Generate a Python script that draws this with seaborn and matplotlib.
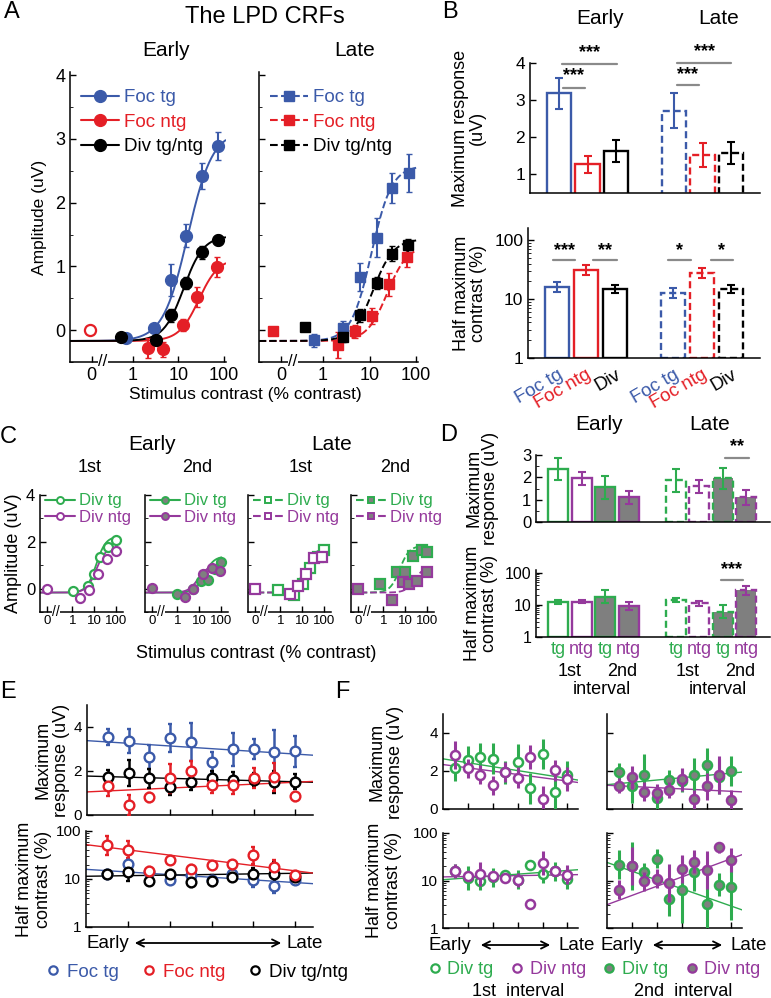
import numpy as np
import matplotlib
matplotlib.use("Agg")
import matplotlib.pyplot as plt
import matplotlib.transforms as mtransforms
from matplotlib.lines import Line2D
from matplotlib.patches import FancyArrowPatch
from matplotlib.ticker import LogLocator, NullFormatter, MultipleLocator
import seaborn as sns

sns.set_style("ticks")
plt.rcParams["font.family"] = ["Liberation Sans", "DejaVu Sans"]
plt.rcParams.update({
    "xtick.direction": "in", "ytick.direction": "in",
    "axes.edgecolor": "black", "axes.linewidth": 1.1,
    "xtick.color": "black", "ytick.color": "black",
    "text.color": "black", "axes.labelcolor": "black",
    "xtick.major.size": 4, "ytick.major.size": 4,
    "xtick.minor.size": 2.5, "ytick.minor.size": 2.5,
    "xtick.major.width": 1, "ytick.major.width": 1,
})

BLUE = "#3b5aa9"
RED = "#e41f26"
GREEN = "#2eac4f"
PURPLE = "#95399c"
GRAYFILL = "#7f7f7f"
SIG = "#8a8a8a"

# ---------------- data ----------------
# A: contrast response functions (x = log10 contrast, zero contrast placed at -0.9)
ae_tg_x = [-0.15, 0.46, 0.83, 1.17, 1.52, 1.87]
ae_tg_y = [-0.13, 0.03, 0.78, 1.48, 2.42, 2.89]
ae_tg_e = [0.05, 0.06, 0.25, 0.18, 0.2, 0.22]
ae_ntg_x = [0.33, 0.67, 1.09, 1.41, 1.85]
ae_ntg_y = [-0.28, -0.3, 0.08, 0.52, 0.99]
ae_ntg_e = [0.15, 0.12, 0.1, 0.15, 0.15]
ae_div_x = [-0.26, 0.5, 0.83, 1.17, 1.52, 1.87]
ae_div_y = [-0.11, -0.16, 0.23, 0.74, 1.22, 1.42]
ae_div_e = [0.05, 0.08, 0.1, 0.1, 0.1, 0.08]
ae_zero = (-0.93, 0.0)

al_tg_x = [-0.2, 0.43, 0.79, 1.16, 1.48, 1.84]
al_tg_y = [-0.16, 0.03, 0.83, 1.45, 2.23, 2.47]
al_tg_e = [0.1, 0.12, 0.22, 0.31, 0.23, 0.3]
al_ntg_x = [0.32, 0.69, 1.06, 1.42, 1.8]
al_ntg_y = [-0.23, -0.02, 0.22, 0.72, 1.14]
al_ntg_e = [0.2, 0.1, 0.12, 0.18, 0.15]
al_div_x = [-0.39, 0.43, 0.79, 1.16, 1.48, 1.82]
al_div_y = [0.05, -0.1, 0.23, 0.74, 1.2, 1.33]
al_div_e = [0.03, 0.08, 0.1, 0.1, 0.12, 0.1]
al_zero = (-1.07, -0.02)

fit_base = -0.17
ae_rmax, ae_c50, ae_n = [3.3, 1.3, 1.65], [16, 28, 13], [1.6, 2.0, 2.0]
al_rmax, al_c50, al_n = [2.75, 1.5, 1.6], [11, 24, 12], [2.0, 2.0, 2.0]

# B: fitted parameters
b_pos = [0, 1, 2, 4, 5, 6]
b_labels = ["Foc tg", "Foc ntg", "Div"] * 2
b_max = [3.18, 1.27, 1.63, 2.72, 1.52, 1.58]
b_max_err = [0.42, 0.23, 0.3, 0.48, 0.33, 0.3]
b_half = [16, 31, 14.8, 12.6, 27.6, 14.8]
b_half_err = [0.08, 0.08, 0.06, 0.09, 0.09, 0.06]

# C: divided attention CRFs, 1st / 2nd interval
c1_tg_x = [0.02, 0.7, 0.97, 1.25, 1.61, 1.98]
c1_tg_y = [-0.12, 0.13, 0.64, 1.33, 1.77, 2.06]
c1_ntg_x = [0.34, 0.75, 1.16, 1.57, 1.97]
c1_ntg_y = [-0.4, -0.05, 0.64, 1.25, 1.6]
c2_tg_x = [-0.03, 0.7, 1.07, 1.38, 1.7, 2.0]
c2_tg_y = [-0.22, 0.0, 0.34, 0.38, 0.85, 1.12]
c2_ntg_x = [0.34, 0.7, 1.16, 1.57, 1.93]
c2_ntg_y = [-0.38, 0.0, 0.63, 0.86, 0.74]
c3_tg_x = [-0.12, 0.61, 1.02, 1.34, 1.7, 1.98]
c3_tg_y = [-0.05, -0.26, 0.2, 0.86, 1.35, 1.63]
c3_ntg_x = [0.43, 0.79, 1.16, 1.52, 1.9]
c3_ntg_y = [-0.22, 0.09, 0.64, 1.29, 1.33]
c4_tg_x = [-0.16, 0.61, 0.97, 1.34, 1.75, 2.0]
c4_tg_y = [0.18, 0.7, 0.72, 1.38, 1.66, 1.55]
c4_ntg_x = [0.38, 0.88, 1.16, 1.52, 1.97]
c4_ntg_y = [-0.5, 0.27, 0.2, 0.34, 0.73]
c_tg_e = [0.1, 0.12, 0.15, 0.2, 0.18, 0.2]
c_ntg_e = [0.12, 0.12, 0.15, 0.2, 0.18]
c_zero_y = [0.0, 0.04, 0.0, 0.0]
c_tg_rmax, c_tg_c50 = [2.4, 1.55, 1.9, 2.0], [12, 17, 13.5, 5.5]
c_ntg_rmax, c_ntg_c50 = [1.95, 1.15, 1.65, 1.15], [12, 8.5, 10.5, 28]

# D: fitted parameters for divided attention
d_pos = [0, 1, 2, 3, 5, 6, 7, 8]
d_labels = ["tg", "ntg"] * 4
d_max = [2.36, 1.95, 1.55, 1.1, 1.86, 1.6, 1.95, 1.1]
d_max_err = [0.5, 0.3, 0.5, 0.3, 0.5, 0.3, 0.45, 0.35]
d_half = [12.5, 12.5, 18, 9, 14, 11, 6, 28]
d_half_err = [0.06, 0.05, 0.2, 0.13, 0.06, 0.07, 0.2, 0.14]

# E: parameters across the session (10 bins)
bins = list(range(1, 11))
e_tg_max = [3.55, 3.37, 2.63, 3.5, 3.32, 2.4, 3.0, 3.0, 2.86, 2.9]
e_tg_max_e = [0.38, 0.55, 0.55, 0.65, 0.85, 0.45, 0.75, 0.45, 1.0, 0.7]
e_ntg_max = [1.3, 0.45, 0.8, 1.67, 2.0, 1.35, 1.35, 1.67, 1.72, 0.85]
e_ntg_max_e = [0.45, 0.45, 0.2, 0.65, 0.45, 0.35, 0.4, 0.45, 0.65, 0.2]
e_div_max = [1.75, 1.9, 1.66, 1.28, 1.52, 1.7, 1.6, 1.6, 1.52, 1.52]
e_div_max_e = [0.3, 0.6, 0.45, 0.35, 0.4, 0.3, 0.35, 0.3, 0.5, 0.35]
e_tg_half = [13, 21, 14, 9.5, 12, 9.5, 13, 9.5, 7.2, 9.5]
e_tg_half_e = [0.06, 0.1, 0.05, 0.06, 0.05, 0.06, 0.05, 0.15, 0.15, 0.07]
e_ntg_half = [50, 41, 14.5, 25, 16.5, 20, 21, 31, 18, 12]
e_ntg_half_e = [0.2, 0.18, 0.08, 0.07, 0.08, 0.06, 0.06, 0.18, 0.15, 0.08]
e_div_half = [12.5, 14, 9.3, 12.5, 8.8, 9.3, 10.8, 13, 12.5, 11.2]
e_div_half_e = [0.06, 0.18, 0.05, 0.06, 0.12, 0.12, 0.05, 0.12, 0.25, 0.1]
# regression lines: intercept, slope (max: linear, half: log10)
e_max_fit = {"tg": (3.38, -0.061), "ntg": (1.05, 0.044), "div": (1.77, -0.026)}
e_half_fit = {"tg": (1.201, -0.0275), "ntg": (1.716, -0.0546), "div": (1.057, 0.0062)}

# F: divided attention across the session
f1_tg_max = [2.15, 2.56, 2.74, 2.65, 1.94, 2.5, 1.08, 2.88, 0.87, 1.81]
f1_tg_max_e = [0.65, 0.75, 0.75, 0.8, 0.6, 0.9, 0.8, 0.8, 0.9, 0.7]
f1_ntg_max = [2.83, 2.15, 1.8, 1.26, 1.95, 1.64, 2.74, 0.52, 2.03, 1.58]
f1_ntg_max_e = [0.75, 0.5, 0.5, 0.5, 0.55, 0.55, 0.65, 0.7, 0.55, 0.65]
f2_tg_max = [1.94, 1.23, 1.81, 0.6, 1.53, 1.49, 1.81, 2.29, 1.71, 1.99]
f2_tg_max_e = [0.5, 0.9, 1.1, 0.6, 0.5, 0.6, 0.9, 0.9, 0.9, 0.8]
f2_ntg_max = [1.23, 1.67, 0.91, 0.84, 1.0, 1.56, 0.52, 1.19, 1.8, 0.48]
f2_ntg_max_e = [0.4, 0.6, 0.5, 0.5, 0.4, 0.6, 0.5, 0.7, 1.0, 0.5]
f1_tg_half = [15.6, 11.3, 9.9, 11.8, 13.3, 10.4, 21.6, 14, 15.6, 10.7]
f1_tg_half_e = [0.15, 0.25, 0.2, 0.2, 0.08, 0.2, 0.08, 0.2, 0.2, 0.2]
f1_ntg_half = [16.1, 12.6, 13.9, 12.2, 11.3, 10.4, 3.25, 23.4, 16.1, 13.3]
f1_ntg_half_e = [0.15, 0.1, 0.25, 0.12, 0.08, 0.15, 0.1, 0.25, 0.1, 0.2]
f2_tg_half = [21.6, 20, 14.9, 28.4, 4.1, 6.4, 14.9, 3.2, 8.2, 7.3]
f2_tg_half_e = [0.3, 0.5, 0.2, 0.2, 0.35, 0.7, 0.4, 0.6, 0.25, 0.7]
f2_ntg_half = [6.4, 20.5, 9.6, 10.8, 8.9, 17.5, 25, 16.9, 50, 26.6]
f2_ntg_half_e = [0.2, 0.4, 0.2, 0.2, 0.4, 0.3, 0.25, 0.4, 0.12, 0.25]
f_max_fit = [(2.64, -0.103), (2.34, -0.087), (1.28, 0.061), (1.25, -0.032)]
f_half_fit = [(1.017, 0.0194), (1.076, 0.0044), (1.38, -0.092), (0.491, 0.097)]

# ---------------- helpers ----------------
W, H = 771, 998
fig = plt.figure(figsize=(W / 100, H / 100), dpi=100)


def add_ax(l, t, r, b):
    ax = fig.add_axes([l / W, 1 - b / H, (r - l) / W, (b - t) / H])
    sns.despine(ax=ax)
    return ax


def ftext(x, y, s, **kw):
    kw.setdefault("ha", "center")
    kw.setdefault("va", "center")
    fig.text(x / W, 1 - y / H, s, **kw)


def arrow(x0, x1, y):
    fig.add_artist(FancyArrowPatch((x0 / W, 1 - y / H), (x1 / W, 1 - y / H),
                                   transform=fig.transFigure, arrowstyle="<->",
                                   mutation_scale=13, lw=1.3, color="black"))


def naka(x, rmax, c50, n, base=fit_base):
    c = 10.0 ** np.asarray(x)
    return base + rmax * c ** n / (c ** n + c50 ** n)


def fit_curve(ax, x0, x1, rmax, c50, n, color, ls="-", lw=1.4):
    xs = np.linspace(x0, x1, 200)
    sns.lineplot(x=xs, y=naka(xs, rmax, c50, n), ax=ax, color=color,
                 linestyle=ls, lw=lw, legend=False)


def brk(ax, x, fs=12):
    tr = mtransforms.blended_transform_factory(ax.transData, ax.transAxes)
    ax.text(x, 0, "//", transform=tr, ha="center", va="center", fontsize=fs,
            clip_on=False, zorder=6,
            bbox=dict(fc="white", ec="none", pad=0.3))


def logerr(v, e):
    v = np.asarray(v, float)
    e = np.asarray(e, float)
    return [v - v / 10 ** e, v * 10 ** e - v]


def log_axis(ax, top):
    ax.set_yscale("log")
    ax.set_ylim(1, top)
    ax.set_yticks([1, 10, 100], ["1", "10", "100"])
    ax.yaxis.set_minor_locator(LogLocator(base=10, subs=np.arange(2, 10), numticks=20))
    ax.yaxis.set_minor_formatter(NullFormatter())


def bars(ax, vals, errs, pos, colors, dashed, filled, width, log=False):
    for x, v, e, c, d, f in zip(pos, vals, errs, colors, dashed, filled):
        bottom = 1 if log else 0
        ax.bar(x, v - bottom, bottom=bottom, width=width,
               facecolor=GRAYFILL if f else "white", edgecolor=c, lw=1.7,
               ls=(0, (3, 1.6)) if d else "-", zorder=2)
        yerr = np.array(logerr([v], [e])) if log else e
        ax.errorbar(x, v, yerr=yerr, fmt="none", ecolor=c, elinewidth=1.5,
                    capsize=3, capthick=1.5, zorder=3)


def sig(ax, x0, x1, y, ys, s, fs=13):
    ax.plot([x0, x1], [y, y], color=SIG, lw=1.6, clip_on=False, zorder=4)
    ax.text((x0 + x1) / 2, ys, s, ha="center", va="center", fontsize=fs,
            fontweight="bold", clip_on=False)


# ---------------- panel A ----------------
xl_a = (-1.37, 2.04)
for k, (l, r) in enumerate([(70, 226), (259, 418)]):
    ax = add_ax(l, 72, r, 362)
    late = k == 1
    ls = "--" if late else "-"
    mk = "s" if late else "o"
    ms = 7 if late else 8.5
    sets = ([(al_tg_x, al_tg_y, al_tg_e, BLUE), (al_ntg_x, al_ntg_y, al_ntg_e, RED),
             (al_div_x, al_div_y, al_div_e, "black")] if late else
            [(ae_tg_x, ae_tg_y, ae_tg_e, BLUE), (ae_ntg_x, ae_ntg_y, ae_ntg_e, RED),
             (ae_div_x, ae_div_y, ae_div_e, "black")])
    rm, c5, nn = (al_rmax, al_c50, al_n) if late else (ae_rmax, ae_c50, ae_n)
    for i, (xx, yy, ee, c) in enumerate(sets):
        fit_curve(ax, xl_a[0], 2.0 if late else 2.03, rm[i], c5[i], nn[i], c, ls)
        ax.errorbar(xx, yy, yerr=ee, fmt=mk, color=c, ms=ms, mec=c, ecolor=c,
                    elinewidth=1.5, capsize=2, zorder=4)
    if late:
        ax.plot([al_zero[0]], [al_zero[1]], "s", color=RED, ms=7)
    else:
        ax.plot([ae_zero[0]], [ae_zero[1]], "o", mfc="white", mec=RED, mew=1.6, ms=8)
    ax.set_xlim(*xl_a)
    ax.set_ylim(-0.5, 4.05)
    ax.set_xticks([-0.9, 0, 1, 2], ["0", "1", "10", "100"], fontsize=13)
    ax.set_yticks([0, 1, 2, 3, 4])
    ax.yaxis.set_minor_locator(MultipleLocator(0.5))
    if late:
        ax.set_yticklabels([])
    else:
        ax.tick_params(axis="y", labelsize=13)
        ax.set_ylabel("Amplitude (uV)", fontsize=12.5, labelpad=6)
    brk(ax, -0.65, 12)
    handles = [Line2D([], [], color=c, ls=ls, marker=mk, ms=ms) for c in (BLUE, RED, "black")]
    ax.legend(handles, ["Foc tg", "Foc ntg", "Div tg/ntg"], loc="upper left",
              bbox_to_anchor=(0.0, 0.98), frameon=False, fontsize=13.5,
              handlelength=2.0, handletextpad=0.3, labelspacing=0.4,
              labelcolor="linecolor", borderaxespad=0.2)

ftext(12, 12, "A", fontsize=17)
ftext(265, 17, "The LPD CRFs", fontsize=17)
ftext(166, 50, "Early", fontsize=15)
ftext(355, 50, "Late", fontsize=15)
ftext(245, 395, "Stimulus contrast (% contrast)", fontsize=12.5)

# ---------------- panel B ----------------
b_colors = [BLUE, RED, "black"] * 2
b_dashed = [False] * 3 + [True] * 3
ax = add_ax(530, 63, 760, 193)
bars(ax, b_max, b_max_err, b_pos, b_colors, b_dashed, [False] * 6, 0.84)
ax.set_xlim(-1, 7)
ax.set_ylim(0.5, 4)
ax.set_yticks([1, 2, 3, 4])
ax.tick_params(axis="y", labelsize=12.5)
ax.set_xticks([])
sig(ax, 0.14, 0.9, 3.34, 3.66, "***")
sig(ax, 0.1, 2.02, 3.98, 4.28, "***")
sig(ax, 4.11, 4.88, 3.4, 3.7, "***")
sig(ax, 4.11, 6.0, 4.01, 4.32, "***")
ftext(469, 128, "Maximum response\n(uV)", rotation=90, fontsize=13, linespacing=1.0)

ax = add_ax(528, 228, 760, 358)
bars(ax, b_half, b_half_err, b_pos, b_colors, b_dashed, [False] * 6, 0.84, log=True)
ax.set_xlim(-1, 7)
log_axis(ax, 160)
ax.tick_params(axis="y", labelsize=12.5)
ax.set_xticks(b_pos, b_labels, rotation=30, ha="right", rotation_mode="anchor", fontsize=13.5)
ax.tick_params(axis="x", length=0, pad=6)
for t, c in zip(ax.get_xticklabels(), b_colors):
    t.set_color(c)
sig(ax, -0.14, 0.63, 46, 66, "***")
sig(ax, 1.25, 2.06, 46, 66, "**")
sig(ax, 3.83, 4.63, 46, 66, "*")
sig(ax, 5.3, 6.06, 46, 66, "*")
ftext(470, 293, "Half maximum\ncontrast (%)", rotation=90, fontsize=13, linespacing=1.0)

ftext(450, 12, "B", fontsize=17)
ftext(600, 18, "Early", fontsize=15)
ftext(719, 18, "Late", fontsize=15)

# ---------------- panel C ----------------
xl_c = (-1.48, 2.3)
c_sets = [(c1_tg_x, c1_tg_y, c1_ntg_x, c1_ntg_y), (c2_tg_x, c2_tg_y, c2_ntg_x, c2_ntg_y),
          (c3_tg_x, c3_tg_y, c3_ntg_x, c3_ntg_y), (c4_tg_x, c4_tg_y, c4_ntg_x, c4_ntg_y)]
for k, l in enumerate([40, 145, 248, 351]):
    ax = add_ax(l, 495, l + 83, 612)
    late = k >= 2
    second = k % 2 == 1
    ls = "--" if late else "-"
    mk = "s" if late else "o"
    face = GRAYFILL if second else "white"
    tx, ty, nx, ny = c_sets[k]
    fit_curve(ax, xl_c[0], 2.0, c_tg_rmax[k], c_tg_c50[k], 2, GREEN, ls, 1.3)
    fit_curve(ax, xl_c[0], 2.0, c_ntg_rmax[k], c_ntg_c50[k], 2, PURPLE, ls, 1.3)
    ax.errorbar(tx, ty, yerr=c_tg_e, fmt=mk, mfc=face, mec=GREEN, ecolor=GREEN,
                ms=6.5, mew=1.6, elinewidth=1.4, capsize=0, zorder=4)
    ax.errorbar(nx, ny, yerr=c_ntg_e, fmt=mk, mfc=face, mec=PURPLE, ecolor=PURPLE,
                ms=6.5, mew=1.6, elinewidth=1.4, capsize=0, zorder=5)
    ax.plot([-1.15], [c_zero_y[k]], mk, mfc=face, mec=PURPLE, mew=1.6, ms=6.5, zorder=5)
    ax.set_xlim(*xl_c)
    ax.set_ylim(-1, 4)
    ax.set_xticks([-1.15, 0, 1, 2], ["0", "1", "10", "100"], fontsize=9.5)
    ax.tick_params(axis="x", pad=2)
    ax.set_yticks([0, 2, 4])
    ax.yaxis.set_minor_locator(MultipleLocator(1))
    if k == 0:
        ax.tick_params(axis="y", labelsize=12)
        ax.set_ylabel("Amplitude (uV)", fontsize=13, labelpad=3)
    else:
        ax.set_yticklabels([])
    brk(ax, -0.75, 10)
    handles = [Line2D([], [], color=c, ls=ls, marker=mk, mfc=face, mec=c, mew=1.4, ms=5)
               for c in (GREEN, PURPLE)]
    ax.legend(handles, ["Div tg", "Div ntg"], loc="upper left", bbox_to_anchor=(-0.02, 1.07),
              frameon=False, fontsize=12, handlelength=1.8, handletextpad=0.25,
              labelspacing=0.1, labelcolor="linecolor", borderaxespad=0)

ftext(8, 437, "C", fontsize=17)
ftext(152, 445, "Early", fontsize=15)
ftext(332, 445, "Late", fontsize=15)
for x, s in zip([90, 197, 301, 395], ["1st", "2nd", "1st", "2nd"]):
    ftext(x, 468, s, fontsize=13)
ftext(256, 653, "Stimulus contrast (% contrast)", fontsize=13)

# ---------------- panel D ----------------
d_colors = [GREEN, PURPLE] * 4
d_dashed = [False] * 4 + [True] * 4
d_filled = [False, False, True, True] * 2
ax = add_ax(536, 455, 770, 522)
bars(ax, d_max, d_max_err, d_pos, d_colors, d_dashed, d_filled, 0.85)
ax.set_xlim(-0.94, 9.0)
ax.set_ylim(0, 3)
ax.set_yticks([0, 1, 2, 3])
ax.yaxis.set_minor_locator(MultipleLocator(0.5))
ax.tick_params(axis="y", labelsize=12)
ax.set_xticks([])
sig(ax, 7.1, 8.09, 2.87, 3.38, "**")
ftext(482, 488, "Maximum\nresponse (uV)", rotation=90, fontsize=13, linespacing=1.0)

ax = add_ax(536, 570, 770, 637)
bars(ax, d_half, d_half_err, d_pos, d_colors, d_dashed, d_filled, 0.85, log=True)
ax.set_xlim(-0.94, 9.0)
log_axis(ax, 120)
ax.tick_params(axis="y", labelsize=11.5)
ax.set_xticks(d_pos, d_labels, fontsize=13)
ax.tick_params(axis="x", length=0, pad=3)
for t, c in zip(ax.get_xticklabels(), d_colors):
    t.set_color(c)
sig(ax, 6.9, 7.87, 59, 122, "***")
ftext(481, 603, "Half maximum\ncontrast (%)", rotation=90, fontsize=13, linespacing=1.0)
for x, s in [(570, "1st"), (622, "2nd"), (688, "1st"), (740, "2nd")]:
    ftext(x, 672, s, fontsize=13)
ftext(602, 690, "interval", fontsize=13)
ftext(718, 690, "interval", fontsize=13)

ftext(449, 435, "D", fontsize=17)
ftext(599, 424, "Early", fontsize=15)
ftext(710, 424, "Late", fontsize=15)

# ---------------- panel E ----------------
xl_e = (0, 10.85)
xs_fit = np.array(xl_e)
ax = add_ax(87, 705, 313, 815)
for key, yy, ee, c in [("tg", e_tg_max, e_tg_max_e, BLUE), ("div", e_div_max, e_div_max_e, "black"),
                       ("ntg", e_ntg_max, e_ntg_max_e, RED)]:
    a, b = e_max_fit[key]
    sns.lineplot(x=xs_fit, y=a + b * xs_fit, ax=ax, color=c, lw=1.0, legend=False)
    ax.errorbar(bins, yy, yerr=ee, fmt="o", mfc="white", mec=c, ecolor=c, ms=7,
                mew=1.7, elinewidth=1.8, capsize=1.5, zorder=4)
ax.set_xlim(*xl_e)
ax.set_ylim(0, 5)
ax.set_yticks([0, 2, 4])
ax.tick_params(axis="y", labelsize=11)
ax.set_xticks([2, 4, 6, 8, 10], [])
ftext(52, 760, "Maximum\nresponse (uV)", rotation=90, fontsize=13, linespacing=1.1)

ax = add_ax(86, 831, 313, 927)
for key, yy, ee, c in [("tg", e_tg_half, e_tg_half_e, BLUE), ("div", e_div_half, e_div_half_e, "black"),
                       ("ntg", e_ntg_half, e_ntg_half_e, RED)]:
    a, b = e_half_fit[key]
    sns.lineplot(x=xs_fit, y=10 ** (a + b * xs_fit), ax=ax, color=c, lw=1.0, legend=False)
    ax.errorbar(bins, yy, yerr=logerr(yy, ee), fmt="o", mfc="white", mec=c, ecolor=c, ms=7,
                mew=1.7, elinewidth=1.8, capsize=1.5, zorder=4)
ax.set_xlim(*xl_e)
log_axis(ax, 100)
ax.tick_params(axis="y", labelsize=11)
ax.set_xticks([2, 4, 6, 8, 10], [])
ftext(34, 879, "Half maximum\ncontrast (%)", rotation=90, fontsize=13, linespacing=1.1)

ftext(86, 943, "Early", ha="left", fontsize=13.5)
arrow(132, 284, 943)
ftext(287, 943, "Late", ha="left", fontsize=13.5)
e_handles = [Line2D([], [], ls="none", marker="o", mfc="white", mec=c, color=c, mew=1.6, ms=6)
             for c in (BLUE, RED, "black")]
fig.legend(e_handles, ["Foc tg", "Foc ntg", "Div tg/ntg"], loc="center",
           bbox_to_anchor=(197 / W, 1 - 972 / H), ncol=3, frameon=False, fontsize=13.5,
           handlelength=0.8, handletextpad=0.35, columnspacing=1.2, labelcolor="linecolor")
ftext(8, 692, "E", fontsize=17)

# ---------------- panel F ----------------
f_max = [(f1_tg_max, f1_tg_max_e, f1_ntg_max, f1_ntg_max_e),
         (f2_tg_max, f2_tg_max_e, f2_ntg_max, f2_ntg_max_e)]
f_half = [(f1_tg_half, f1_tg_half_e, f1_ntg_half, f1_ntg_half_e),
          (f2_tg_half, f2_tg_half_e, f2_ntg_half, f2_ntg_half_e)]
for k, l in enumerate([443, 607]):
    face = GRAYFILL if k == 1 else "white"
    ax = add_ax(l, 714, l + 135, 809)
    tg, tge, ntg, ntge = f_max[k]
    for j, (yy, ee, c) in enumerate([(tg, tge, GREEN), (ntg, ntge, PURPLE)]):
        a, b = f_max_fit[2 * k + j]
        sns.lineplot(x=xs_fit, y=a + b * xs_fit, ax=ax, color=c, lw=1.0, legend=False)
        ax.errorbar(bins, yy, yerr=ee, fmt="o", mfc=face, mec=c, ecolor=c, ms=6.5,
                    mew=1.8, elinewidth=2.2, capsize=0, zorder=4 + j)
    ax.set_xlim(*xl_e)
    ax.set_ylim(0, 5)
    ax.set_yticks([0, 2, 4])
    ax.tick_params(axis="y", labelsize=11)
    if k == 1:
        ax.set_yticklabels([])
    ax.set_xticks([2, 4, 6, 8, 10], [])

    ax = add_ax(l, 833, l + 135, 928)
    tg, tge, ntg, ntge = f_half[k]
    for j, (yy, ee, c) in enumerate([(tg, tge, GREEN), (ntg, ntge, PURPLE)]):
        a, b = f_half_fit[2 * k + j]
        sns.lineplot(x=xs_fit, y=10 ** (a + b * xs_fit), ax=ax, color=c, lw=1.0, legend=False)
        ax.errorbar(bins, yy, yerr=logerr(yy, ee), fmt="o", mfc=face, mec=c, ecolor=c, ms=6.5,
                    mew=1.8, elinewidth=2.2, capsize=0, zorder=4 + j)
    ax.set_xlim(*xl_e)
    log_axis(ax, 100)
    ax.tick_params(axis="y", labelsize=11)
    if k == 1:
        ax.set_yticklabels([])
    ax.set_xticks([2, 4, 6, 8, 10], [])

ftext(386, 762, "Maximum\nresponse (uV)", rotation=90, fontsize=13, linespacing=1.1)
ftext(384, 880, "Half maximum\ncontrast (%)", rotation=90, fontsize=13, linespacing=1.1)
for x0, a0, a1, x1 in [(429, 478, 553, 558), (600, 650, 725, 730)]:
    ftext(x0, 945, "Early", ha="left", fontsize=13.5)
    arrow(a0, a1, 945)
    ftext(x1, 945, "Late", ha="left", fontsize=13.5)
f_handles = [Line2D([], [], ls="none", marker="o", mfc=f, mec=c, color=c, mew=1.6, ms=6)
             for f, c in [("white", GREEN), ("white", PURPLE), (GRAYFILL, GREEN), (GRAYFILL, PURPLE)]]
fig.legend(f_handles, ["Div tg", "Div ntg", "Div tg", "Div ntg"], loc="center",
           bbox_to_anchor=(594 / W, 1 - 970 / H), ncol=4, frameon=False, fontsize=13,
           handlelength=0.8, handletextpad=0.3, columnspacing=0.9, labelcolor="linecolor")
ftext(518, 991, "1st  interval", fontsize=13)
ftext(683, 991, "2nd  interval", fontsize=13)
ftext(342, 692, "F", fontsize=17)

fig.savefig("out.png", dpi=100)
